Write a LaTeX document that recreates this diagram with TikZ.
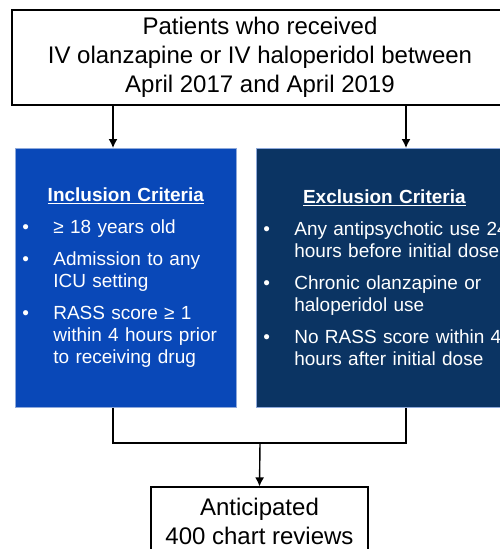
\documentclass[tikz,border=0pt]{standalone}
\usepackage{fontspec}
\setmainfont{Liberation Sans}
\usetikzlibrary{arrows.meta}
\newcommand{\critbullet}[1]{\par\hangindent=34pt\hangafter=1\noindent\makebox[34pt][l]{\hspace{3pt}\textbullet}#1}
\newcommand{\crithead}[1]{{\centering\bfseries\underline{#1}\par}}
\begin{document}
\begin{tikzpicture}[x=1pt,y=-1pt,
  plainbox/.style={draw,line width=1.2pt,align=center,font=\fontsize{24}{29}\selectfont},
  critbox/.style={fill=#1,draw=cedge,line width=0.7pt,text=white,anchor=north west,
    inner xsep=4pt,inner ysep=0pt,minimum height=259pt,font=\fontsize{19}{22}\selectfont,
    execute at begin node={\raggedright\parindent=0pt\parskip=10pt}},
  arr/.style={line width=1.4pt,-{Latex[length=9pt,width=9pt]}}]
  \definecolor{cincl}{HTML}{0948B8}
  \definecolor{cexcl}{HTML}{0B3463}
  \definecolor{cedge}{HTML}{8EA9DB}
  \useasboundingbox (0,0) rectangle (500,549);
  \clip (0,0) rectangle (500,549);
  % source population
  \node[plainbox,minimum width=496pt,minimum height=95pt] (src) at (260,57.5)
    {Patients who received\\IV olanzapine or IV haloperidol between\\April 2017 and April 2019};
  % criteria
  \node[critbox=cincl,text width=213pt] (incl) at (15,148) {%
    \crithead{Inclusion Criteria}
    \critbullet{≥ 18 years old}
    \critbullet{Admission to any\newline ICU setting}
    \critbullet{RASS score ≥ 1\newline within 4 hours prior\newline to receiving drug}\par};
  \node[critbox=cexcl,text width=248pt] (excl) at (256,148) {%
    \crithead{Exclusion Criteria}
    \critbullet{Any antipsychotic use 24\newline hours before initial dose}
    \critbullet{Chronic olanzapine or\newline haloperidol use}
    \critbullet{No RASS score within 4\newline hours after initial dose}\par};
  % result
  \node[plainbox,minimum width=217pt,minimum height=68pt] (rev) at (259.5,521)
    {Anticipated\\400 chart reviews};
  \coordinate (la) at (113,0);
  \coordinate (ra) at (406,0);
  \coordinate (join) at (260,443);
  \draw[arr] (src.south -| la) -- (incl.north -| la);
  \draw[arr] (src.south -| ra) -- (excl.north -| ra);
  \draw[line width=1.4pt] (incl.south -| la) |- (join) -| (excl.south -| ra);
  \draw[arr] (join) -- (rev.north);
\end{tikzpicture}
\end{document}
